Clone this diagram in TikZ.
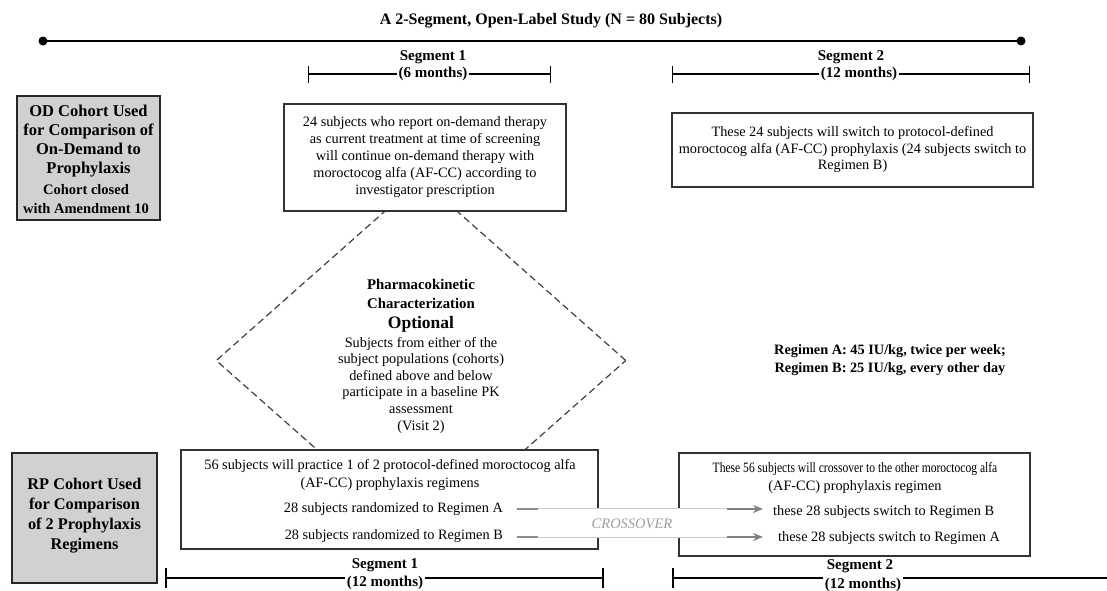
\documentclass[tikz,border=0pt]{standalone}
\usepackage{fontspec}
\setmainfont{Liberation Serif}
\newfontfamily\condserif[FakeStretch=0.81]{Liberation Serif}
\usetikzlibrary{shapes.geometric,arrows.meta,calc}
\begin{document}
\begin{tikzpicture}[x=1pt,y=-1pt,
 box/.style={draw=black!80, line width=1.1pt, fill=white, inner sep=0pt},
 cohort/.style={draw=black!85, line width=1.3pt, fill=black!18, inner sep=0pt},
 cohorttxt/.style={inner sep=0pt, align=center},
 body/.style={inner sep=0pt, align=center, font=\fontsize{14.3}{17}\selectfont},
 boldtxt/.style={inner sep=0pt, align=center, font=\fontsize{14.3}{17.5}\selectfont\bfseries},
 seglab/.style={inner sep=1.5pt, align=center, font=\fontsize{15}{17}\selectfont\bfseries},
 thinbar/.style={line width=1.3pt, {Bar[width=17pt]}-{Bar[width=17pt]}},
 thickbar/.style={line width=2.3pt, {Bar[width=20pt]}-{Bar[width=20pt]}},
 pkline/.style={draw=black!75, line width=1.2pt, dash pattern=on 7pt off 4pt},
 gline/.style={draw=black!45, line width=1.8pt},
 garrow/.style={draw=black!50, line width=1.9pt, -{Stealth[length=10pt,width=8pt]}},
 bandline/.style={draw=black!20, line width=1pt},
]
\useasboundingbox (0,0) rectangle (1107,590);

% title and timeline
\node[seglab, font=\fontsize{16}{18}\selectfont\bfseries] (title) at (551,21) {A 2-Segment, Open-Label Study (N = 80 Subjects)};
\coordinate (tl) at (43,41);
\coordinate (tr) at (1021,41);
\draw[line width=2.5pt] (tl) -- (tr);
\fill (tl) circle (4.5);
\fill (tr) circle (4.5);

% top segment brackets
\coordinate (s1a) at (308,74); \coordinate (s1b) at (551,74);
\draw[thinbar] (s1a) -- (s1b);
\node[seglab] (s1lab) at (433,57) {Segment 1};
\node[seglab, fill=white] (s1dur) at (433,74) {(6 months)};
\coordinate (s2a) at (672,74); \coordinate (s2b) at (1030,74);
\draw[thinbar] (s2a) -- (s2b);
\node[seglab] (s2lab) at (851,57) {Segment 2};
\node[seglab, fill=white] (s2dur) at (859,74) {(12 months)};

% PK diamond (behind boxes)
\node[diamond, pkline, minimum width=410, minimum height=363, inner sep=0pt] (pk) at (421,360.5) {};
\node[boldtxt, font=\fontsize{14.8}{19}\selectfont\bfseries] (pkh) at (421,294) {Pharmacokinetic\\Characterization};
\node[boldtxt, font=\fontsize{17.5}{19}\selectfont\bfseries] (pko) at (421,324) {Optional};
\node[body, font=\fontsize{14.3}{16.6}\selectfont] (pkb) at (421,385) {Subjects from either of the\\subject populations (cohorts)\\defined above and below\\participate in a baseline PK\\assessment\\(Visit 2)};

% OD cohort
\node[cohort, minimum width=143, minimum height=124] (od) at (88.5,158) {};
\node[cohorttxt, font=\fontsize{16.5}{19}\selectfont\bfseries] (odt1) at (88.5,141) {OD Cohort Used\\for Comparison of\\On-Demand to\\Prophylaxis};
\node[cohorttxt, font=\fontsize{14.5}{19}\selectfont\bfseries] (odt2) at (86,199) {Cohort closed\\with Amendment 10};

% top boxes
\node[box, body, minimum width=282, minimum height=107] (odbox) at (425,157.5)
 {24 subjects who report on-demand therapy\\as current treatment at time of screening\\will continue on-demand therapy with\\moroctocog alfa (AF-CC) according to\\investigator prescription};
\node[box, body, minimum width=361, minimum height=74, font=\fontsize{14.3}{16.5}\selectfont] (odsw) at (852.5,150)
 {These 24 subjects will switch to protocol-defined\\moroctocog alfa (AF-CC) prophylaxis (24 subjects switch to\\Regimen B)};

% regimen definitions
\node[boldtxt] (regdef) at (890,360) {Regimen A: 45 IU/kg, twice per week;\\Regimen B: 25 IU/kg, every other day};

% RP cohort
\node[cohort, minimum width=145, minimum height=130] (rp) at (84.5,518) {};
\node[cohorttxt, font=\fontsize{16.3}{20}\selectfont\bfseries] (rpt) at (84.5,516) {RP Cohort Used\\for Comparison\\of 2 Prophylaxis\\Regimens};

% bottom boxes
\node[box, minimum width=417, minimum height=99] (rpbox) at (389.5,499.5) {};
\node[body, font=\fontsize{14.3}{18}\selectfont] (rptxt) at (390,475) {56 subjects will practice 1 of 2 protocol-defined moroctocog alfa\\(AF-CC) prophylaxis regimens};
\node[body, anchor=east] (regA) at (503,509) {28 subjects randomized to Regimen A};
\node[body, anchor=east] (regB) at (503,536) {28 subjects randomized to Regimen B};

\node[box, minimum width=351, minimum height=103] (cobox) at (854.5,504.5) {};
\node[body, font=\fontsize{14.3}{18}\selectfont] (cotxt) at (855,478) {{\condserif These 56 subjects will crossover to the other moroctocog alfa}\\(AF-CC) prophylaxis regimen};
\node[body, anchor=west] (swB) at (773,512) {these 28 subjects switch to Regimen B};
\node[body, anchor=west] (swA) at (778,538) {these 28 subjects switch to Regimen A};

% crossover band
\node[fill=white, inner sep=0pt, minimum width=210, minimum height=28] (band) at (622,523) {};
\draw[bandline] (band.north west) -- (band.north east);
\draw[bandline] (band.south west) -- (band.south east);
\node[inner sep=0pt, text=black!38, font=\fontsize{14.5}{17}\selectfont\itshape] (cross) at (632,524) {CROSSOVER};
\draw[gline] ($(regA.east)+(14,0)$) -- ($(regA.east)+(35,0)$);
\draw[gline] ($(regB.east)+(14,1)$) -- ($(regB.east)+(35,1)$);
\draw[garrow] ($(swB.west)+(-46,-3)$) -- ($(swB.west)+(-10,-3)$);
\draw[garrow] ($(swA.west)+(-51,-1)$) -- ($(swA.west)+(-15,-1)$);

% bottom segment brackets
\coordinate (b1a) at (165,578); \coordinate (b1b) at (604,578);
\draw[thickbar] (b1a) -- (b1b);
\node[seglab] (b1lab) at (385,565) {Segment 1};
\node[seglab, fill=white] (b1dur) at (385,583) {(12 months)};
\coordinate (b2a) at (672,578); \coordinate (b2b) at (1107,578);
\draw[line width=2.3pt, {Bar[width=20pt]}-] (b2a) -- (b2b);
\node[seglab] (b2lab) at (860,566) {Segment 2};
\node[seglab, fill=white] (b2dur) at (863,585) {(12 months)};
\end{tikzpicture}
\end{document}
